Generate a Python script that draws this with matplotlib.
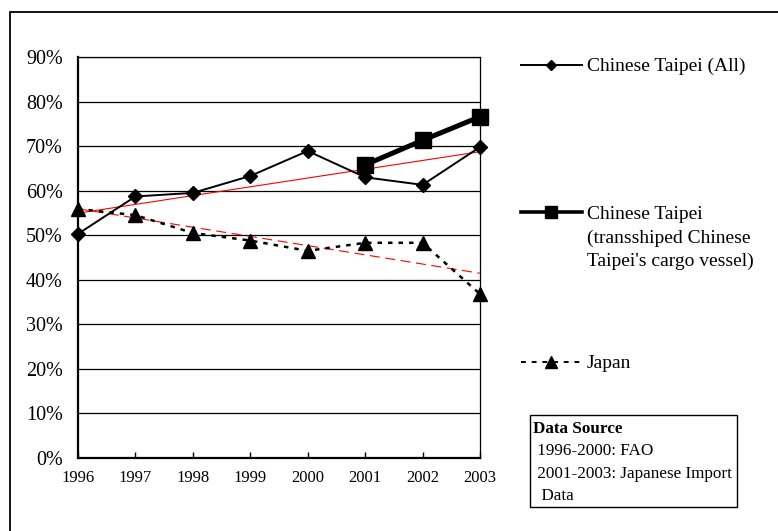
import numpy as np
import matplotlib
matplotlib.use('Agg')
import matplotlib.pyplot as plt
from matplotlib.lines import Line2D
from matplotlib.patches import Rectangle

plt.rcParams['font.family'] = ['Liberation Serif', 'DejaVu Serif']

# data (share, %)
years = [1996, 1997, 1998, 1999, 2000, 2001, 2002, 2003]
ct_all = [50.3, 58.7, 59.5, 63.3, 68.9, 63.0, 61.3, 69.8]
trans_years = [2001, 2002, 2003]
ct_trans = [65.8, 71.3, 76.6]
japan = [55.9, 54.5, 50.5, 48.8, 46.5, 48.3, 48.3, 36.8]

yticks = [0, 10, 20, 30, 40, 50, 60, 70, 80, 90]
label_all = 'Chinese Taipei (All)'
label_trans = ['Chinese Taipei', '(transshiped Chinese', "Taipei's cargo vessel)"]
label_japan = 'Japan'
source_lines = ['1996-2000: FAO', '2001-2003: Japanese Import', ' Data']

W, H = 778, 531
fig = plt.figure(figsize=(W / 100, H / 100), dpi=100)

def px(x, y):
    # pixel coords (from top-left) -> figure fraction
    return x / W, 1 - y / H

l, b = px(78, 458)
r, t = px(480, 57)
ax = fig.add_axes([l, b, r - l, t - b])

x = np.array(years)
ax.plot(years, ct_all, color='black', lw=1.4, marker='D', ms=7.5, zorder=4, clip_on=False)
ax.plot(trans_years, ct_trans, color='black', lw=3.6, marker='s', ms=11, zorder=5, clip_on=False)
ax.plot(years, japan, color='black', lw=1.8, dashes=(1.8, 2.4), marker='^', ms=9.5,
        zorder=4, clip_on=False)

# linear trends
p1 = np.polyfit(x, ct_all, 1)
p2 = np.polyfit(x, japan, 1)
ax.plot(years, np.polyval(p1, x), color='red', lw=0.8, zorder=3)
ax.plot(years, np.polyval(p2, x), color='red', lw=0.8, dashes=(9, 5), zorder=3)

ax.set_xlim(1996, 2003)
ax.set_ylim(0, 90)
ax.set_xticks(years)
ax.set_xticklabels([str(y) for y in years], fontsize=12)
ax.set_yticks(yticks)
ax.set_yticklabels([f'{v}%' for v in yticks], fontsize=14.5)
ax.tick_params(axis='x', direction='in', length=4, pad=9, width=1)
ax.tick_params(axis='y', direction='in', length=0, pad=11)
for v in yticks[1:]:
    ax.axhline(v, color='black', lw=0.9, zorder=1)
for side in ['top', 'right']:
    ax.spines[side].set_linewidth(0.9)
for side in ['left', 'bottom']:
    ax.spines[side].set_linewidth(1.6)

# legend drawn by hand
def handle(y, lw, marker, ms, **kw):
    x0, yy = px(521, y)
    x1, _ = px(582, y)
    xm, _ = px(551, y)
    fig.add_artist(Line2D([x0, x1], [yy, yy], color='black', lw=lw,
                          transform=fig.transFigure, **kw))
    fig.add_artist(Line2D([xm], [yy], color='black', ls='none', marker=marker, ms=ms,
                          transform=fig.transFigure))

def legend_text(y, s):
    xx, yy = px(587, y)
    fig.text(xx, yy, s, fontsize=14, va='baseline', ha='left')

handle(65, 1.4, 'D', 5.5)
legend_text(71, label_all)
handle(212, 2.6, 's', 8)
for i, s in enumerate(label_trans):
    legend_text(219 + 23.5 * i, s)
handle(362, 1.4, '^', 8, dashes=(2.5, 3))
legend_text(368, label_japan)

# data source box
bx, by = px(530, 507)
bw = (737 - 530) / W
bh = (507 - 415) / H
fig.add_artist(Rectangle((bx, by), bw, bh, transform=fig.transFigure,
                         fill=False, edgecolor='black', lw=1))
tx, ty = px(533, 433)
fig.text(tx, ty, 'Data Source', fontsize=12.3, fontweight='bold', va='baseline')
for i, s in enumerate(source_lines):
    tx, ty = px(533, 455 + 22.5 * i)
    fig.text(tx, ty, ' ' + s, fontsize=12.3, va='baseline')

# outer frame (only left and top edges fall inside the image)
ox, oy = px(10, 560)
fig.add_artist(Rectangle((ox, oy), (W + 30 - 10) / W, (560 - 12) / H,
                         transform=fig.transFigure, fill=False, edgecolor='black', lw=1.3))

fig.savefig('out.png', dpi=100)
